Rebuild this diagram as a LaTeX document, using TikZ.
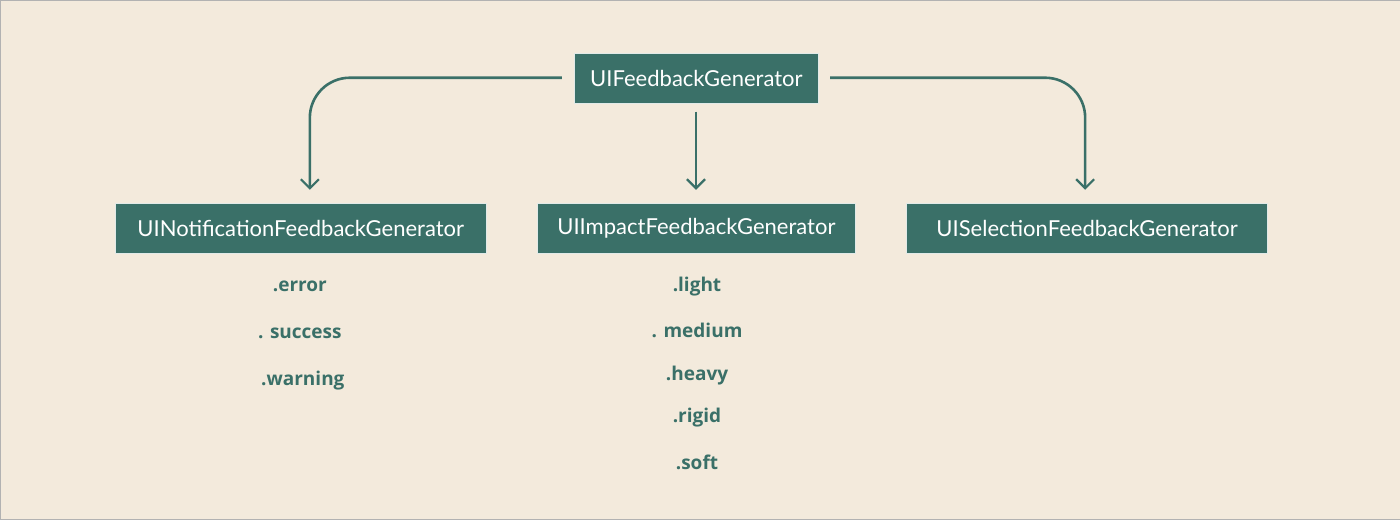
\documentclass[tikz,border=0pt]{standalone}
\usepackage{fontspec}
\setmainfont{Lato}
\newfontfamily\labfont{Open Sans}
\usetikzlibrary{arrows.meta}
\definecolor{bg}{HTML}{F3EADC}
\definecolor{teal}{HTML}{3A7068}
\begin{document}
\begin{tikzpicture}[x=1pt,y=-1pt,
  box/.style={draw=white!85!teal,line width=0.8pt,fill=teal,text=white,font=\fontsize{22}{26}\selectfont,inner sep=0pt,anchor=north west},
  lab/.style={text=teal,font=\labfont\bfseries\fontsize{19}{22}\selectfont},
  arr/.style={draw=teal,line width=2.6pt,-{Straight Barb[length=9pt,width=18pt,line width=2.2pt]},rounded corners=40pt}]
\draw[fill=bg,draw=gray!60] (0.5,0.5) rectangle (1399.5,519.5);
\node[box,minimum width=244pt,minimum height=50pt] (top) at (574,53) {UIFeedbackGenerator};
\node[box,minimum width=371pt,minimum height=50pt] (l) at (115,203) {UINotificationFeedbackGenerator};
\node[box,minimum width=318pt,minimum height=50pt] (m) at (537,203) {UIImpactFeedbackGenerator};
\node[box,minimum width=361pt,minimum height=50pt] (r) at (906,203) {UISelectionFeedbackGenerator};
\coordinate (la) at (562,78); \coordinate (ra) at (830,78);
\draw[arr] (la) -- (310,78) -- (310,190);
\draw[arr] (ra) -- (1085,78) -- (1085,190);
\draw[arr] (696,112) -- (696,190);
\node[lab] (e1) at (300,287) {.error};
\node[lab] (e2) at (300,333) {. success};
\node[lab] (e3) at (303,381) {.warning};
\node[lab] (i1) at (697,287) {.light};
\node[lab] (i2) at (697,331) {. medium};
\node[lab] (i3) at (697,376) {.heavy};
\node[lab] (i4) at (697,418) {.rigid};
\node[lab] (i5) at (697,462) {.soft};
\end{tikzpicture}
\end{document}
